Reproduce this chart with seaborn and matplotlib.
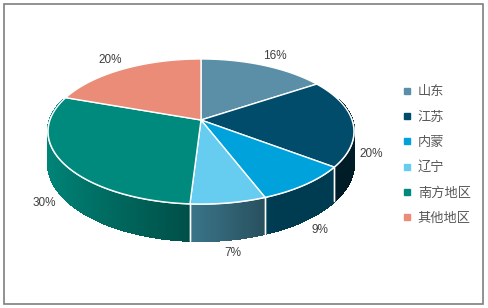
import numpy as np
import matplotlib
matplotlib.use("Agg")
import matplotlib.pyplot as plt
import seaborn as sns
from matplotlib.patches import Polygon, Rectangle
from matplotlib.lines import Line2D

# ---- data ----
categories = ['山东', '江苏', '内蒙', '辽宁', '南方地区', '其他地区']
values = [16, 20, 9, 7, 30, 20]
pct_labels = ['16%', '20%', '9%', '7%', '30%', '20%']
colors = ['#5b8fa8', '#004c6a', '#00a2db', '#66ccf0', '#008a7d', '#ea8c78']

sns.set_theme(style='white')
plt.rcParams['font.family'] = ['Liberation Sans', 'Noto Sans CJK SC', 'DejaVu Sans']

W, H = 488, 308
fig = plt.figure(figsize=(W / 100, H / 100), dpi=100)
ax = fig.add_axes([0, 0, 1, 1])
ax.set_xlim(0, W)
ax.set_ylim(H, 0)
ax.axis('off')

# ---- layout of the perspective pie ----
CX, CY = 201, 120
B, A, K = 151, 70.7, 0.1586
DEPTH = 31


def proj(theta, r=1.0, z=0.0):
    xn = r * np.cos(theta)
    u = -r * np.sin(theta)
    den = 1 - K * u
    return CX + B * xn / den, CY + (A * u + DEPTH * z) / den


def shade(theta):
    return np.clip(0.55 - 0.43 * np.cos(theta), 0.37, 1.0)


vals = np.array(values, dtype=float)
total = vals.sum()
cum = np.concatenate([[0], np.cumsum(vals)])
t_start = np.pi / 2 - 2 * np.pi * cum[:-1] / total
t_end = np.pi / 2 - 2 * np.pi * cum[1:] / total   # clockwise => t_end < t_start


def wall_range(ts, te):
    segs = []
    for shift in (0, -2 * np.pi, 2 * np.pi):
        a, b = te + shift, ts + shift
        lo, hi = max(a, -np.pi - 0.3), min(b, 0.3)
        if hi > lo:
            segs.append((lo, hi))
    return segs


# walls
for i, c in enumerate(colors):
    rgb = np.array(matplotlib.colors.to_rgb(c))
    for lo, hi in wall_range(t_start[i], t_end[i]):
        n = max(2, int((hi - lo) / np.radians(0.7)))
        ts = np.linspace(lo, hi, n + 1)
        for j in range(n):
            a, b = ts[j], ts[j + 1]
            tm = 0.5 * (a + b)
            col = np.clip(rgb * shade(tm), 0, 1)
            pts = [proj(a), proj(b), proj(b, z=1), proj(a, z=1)]
            ax.add_patch(Polygon(pts, closed=True, facecolor=col, edgecolor=col,
                                 lw=1.0, antialiased=False, zorder=1))
        for t in (lo, hi):
            if -np.pi < t < 0:
                x0, y0 = proj(t)
                x1, y1 = proj(t, z=1)
                ax.plot([x0, x1], [y0, y1], color='white', lw=1.0, zorder=2)

# front top edge white line
tt = np.linspace(-np.pi - 0.05, 0.05, 200)
ex, ey = proj(tt)
ax.plot(ex, ey, color='white', lw=1.2, zorder=2)

# top faces
for i, c in enumerate(colors):
    ts = np.linspace(t_start[i], t_end[i], 120)
    px, py = proj(ts)
    pts = [(CX, CY)] + list(zip(px, py))
    ax.add_patch(Polygon(pts, closed=True, facecolor=c, edgecolor='white', lw=1.0, zorder=3))

# data labels
for i, lab in enumerate(pct_labels):
    tm = 0.5 * (t_start[i] + t_end[i])
    u = -np.sin(tm)
    front = u > -0.1
    lx, ly = proj(tm, r=1.12 if front else 1.2, z=1.0 if front else 0.0)
    ax.text(lx, ly, lab, fontsize=8.5, color='#404040', ha='center', va='center', zorder=5)

# legend
handles = [Line2D([], [], marker='s', linestyle='none', markersize=3.8,
                  markerfacecolor=c, markeredgecolor=c) for c in colors]
fig.legend(handles, categories, loc='upper left', bbox_to_anchor=(402 / W, 1 - 86 / H),
           frameon=False, fontsize=9.5, labelcolor='#595959', labelspacing=0.98,
           handlelength=0.8, handletextpad=0.4, borderaxespad=0, borderpad=0)

# outer border
ax.add_patch(Rectangle((3.5, 3.5), 479.5, 300, fill=False, edgecolor='#7f7f7f', lw=1.2, zorder=6))

fig.savefig('out.png', dpi=100)
